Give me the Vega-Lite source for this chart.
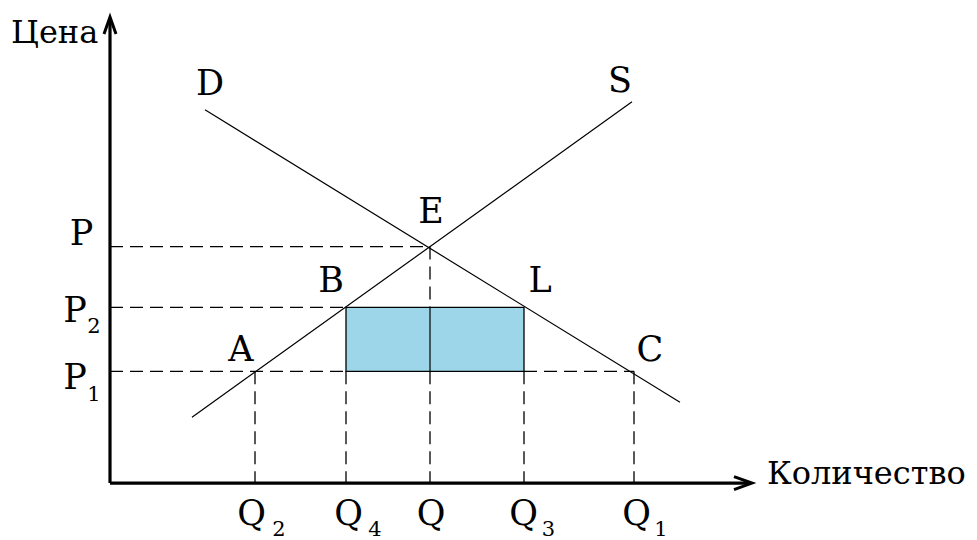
{
  "$schema": "https://vega.github.io/schema/vega-lite/v6.json",
  "width": 977,
  "height": 540,
  "autosize": {"type": "fit", "contains": "padding"},
  "padding": 0,
  "background": "white",
  "config": {"view": {"stroke": null}},
  "datasets": {
    "rect": [{"q": 23.6, "p": 11.2, "q2": 41.4, "p2": 17.6}],
    "dashed": [
      {"q": 0, "p": 23.7, "q2": 32, "p2": 23.7},
      {"q": 32, "p": 23.7, "q2": 32, "p2": 17.6},
      {"q": 32, "p": 11.2, "q2": 32, "p2": 0},
      {"q": 0, "p": 17.6, "q2": 23.6, "p2": 17.6},
      {"q": 0, "p": 11.2, "q2": 23.6, "p2": 11.2},
      {"q": 41.4, "p": 11.2, "q2": 52.4, "p2": 11.2},
      {"q": 14.5, "p": 11.2, "q2": 14.5, "p2": 0},
      {"q": 23.6, "p": 11.2, "q2": 23.6, "p2": 0},
      {"q": 41.4, "p": 11.2, "q2": 41.4, "p2": 0},
      {"q": 52.4, "p": 11.2, "q2": 52.4, "p2": 0}
    ],
    "solid": [
      {"name": "D", "q": 9.5, "p": 37.4, "q2": 57, "p2": 8.1},
      {"name": "S", "q": 8.2, "p": 6.6, "q2": 52.2, "p2": 38.2},
      {"name": "Qmid", "q": 32, "p": 17.6, "q2": 32, "p2": 11.2}
    ],
    "axes": [
      {"q": 0, "p": 0, "q2": 0, "p2": 46.6},
      {"q": 0, "p": 0, "q2": 64.1, "p2": 0}
    ],
    "arrows": [
      {"id": "y", "o": 1, "q": -0.6, "p": 45.0},
      {"id": "y", "o": 2, "q": 0, "p": 46.7},
      {"id": "y", "o": 3, "q": 0.6, "p": 45.0},
      {"id": "x", "o": 1, "q": 62.4, "p": -0.65},
      {"id": "x", "o": 2, "q": 64.2, "p": 0},
      {"id": "x", "o": 3, "q": 62.4, "p": 0.65}
    ],
    "letters": [
      {"label": "D", "q": 10.0, "p": 38.9},
      {"label": "S", "q": 51.0, "p": 39.2},
      {"label": "E", "q": 32.1, "p": 26.1},
      {"label": "B", "q": 22.1, "p": 19.1},
      {"label": "L", "q": 43.0, "p": 19.1},
      {"label": "A", "q": 13.1, "p": 12.2},
      {"label": "C", "q": 54.0, "p": 12.2},
      {"label": "P", "q": -2.85, "p": 23.9},
      {"label": "P", "q": -3.5, "p": 16.1},
      {"label": "P", "q": -3.5, "p": 9.4},
      {"label": "Q", "q": 14.15, "p": -4.2},
      {"label": "Q", "q": 23.85, "p": -4.2},
      {"label": "Q", "q": 32.1, "p": -4.2},
      {"label": "Q", "q": 41.35, "p": -4.2},
      {"label": "Q", "q": 52.65, "p": -4.2}
    ],
    "subs": [
      {"label": "2", "q": -1.6, "p": 15.0},
      {"label": "1", "q": -1.6, "p": 8.2},
      {"label": "2", "q": 16.9, "p": -5.3},
      {"label": "4", "q": 26.5, "p": -5.3},
      {"label": "3", "q": 43.85, "p": -5.3},
      {"label": "1", "q": 55.1, "p": -5.3}
    ],
    "words": [
      {"label": "Цена", "q": -9.9, "p": 44.1},
      {"label": "Количество", "q": 65.7, "p": -0.1}
    ]
  },
  "encoding": {
    "x": {"field": "q", "type": "quantitative", "scale": {"domain": [-11, 86.7], "nice": false, "zero": false}, "axis": null},
    "y": {"field": "p", "type": "quantitative", "scale": {"domain": [-5.6, 48.4], "nice": false, "zero": false}, "axis": null}
  },
  "layer": [
    {
      "data": {"name": "rect"},
      "mark": {"type": "rect", "fill": "#9dd6e8", "stroke": "black", "strokeWidth": 1.3},
      "encoding": {"x2": {"field": "q2"}, "y2": {"field": "p2"}}
    },
    {
      "data": {"name": "dashed"},
      "mark": {"type": "rule", "color": "black", "strokeWidth": 1.3, "strokeDash": [13, 7]},
      "encoding": {"x2": {"field": "q2"}, "y2": {"field": "p2"}}
    },
    {
      "data": {"name": "solid"},
      "mark": {"type": "rule", "color": "black", "strokeWidth": 1.2},
      "encoding": {"x2": {"field": "q2"}, "y2": {"field": "p2"}}
    },
    {
      "data": {"name": "axes"},
      "mark": {"type": "rule", "color": "black", "strokeWidth": 3.2},
      "encoding": {"x2": {"field": "q2"}, "y2": {"field": "p2"}}
    },
    {
      "data": {"name": "arrows"},
      "mark": {"type": "line", "color": "black", "strokeWidth": 3, "strokeJoin": "miter"},
      "encoding": {"detail": {"field": "id"}, "order": {"field": "o", "type": "quantitative"}}
    },
    {
      "data": {"name": "letters"},
      "mark": {"type": "text", "font": "DejaVu Serif", "fontSize": 35, "align": "center", "baseline": "alphabetic", "color": "black"},
      "encoding": {"text": {"field": "label"}}
    },
    {
      "data": {"name": "subs"},
      "mark": {"type": "text", "font": "DejaVu Serif", "fontSize": 21, "align": "center", "baseline": "alphabetic", "color": "black"},
      "encoding": {"text": {"field": "label"}}
    },
    {
      "data": {"name": "words"},
      "mark": {"type": "text", "font": "DejaVu Serif", "fontSize": 32, "align": "left", "baseline": "alphabetic", "color": "black"},
      "encoding": {"text": {"field": "label"}}
    }
  ]
}
